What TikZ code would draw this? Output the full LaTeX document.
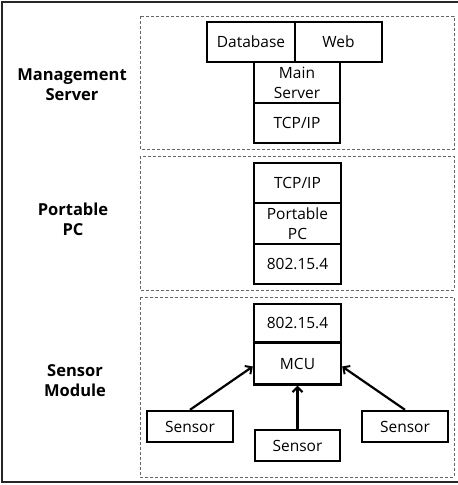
\documentclass[tikz,border=0pt]{standalone}
\usepackage{fontspec}
\setmainfont{Open Sans}
\usetikzlibrary{arrows.meta}
\begin{document}
\begin{tikzpicture}[x=1pt,y=-1pt,
  box/.style={draw=black,line width=2.4pt,inner sep=0pt,font=\fontsize{15.5}{20}\selectfont,align=center},
  zone/.style={draw=black!60,line width=0.8pt,dash pattern=on 3pt off 2pt},
  lbl/.style={font=\fontsize{16.5}{20}\selectfont\bfseries,align=center},
  arr/.style={line width=2.2pt,-{Straight Barb[length=5pt,width=10pt,line width=2pt]}}]
\useasboundingbox (0,0) rectangle (458,485);
\begin{scope}
\clip (0,0) rectangle (458,485);
\draw[line width=1.5pt,black!85] (2,2) rectangle (470,482);
\end{scope}
% zones
\draw[zone] (140,16) rectangle (454,149);
\draw[zone] (140,156) rectangle (454,290);
\draw[zone] (140,297) rectangle (454,477);
% labels
\node[lbl] (lms) at (72,85) {Management\\Server};
\node[lbl] (lpc) at (73,219) {Portable\\PC};
\node[lbl] (lsm) at (75,381) {Sensor\\Module};
% management server
\node[box,minimum width=88pt,minimum height=40pt] (db) at (251,42) {Database};
\node[box,minimum width=87pt,minimum height=40pt] (web) at (338.5,42) {Web};
\node[box,minimum width=86pt,minimum height=41pt] (ms) at (297,82.5) {Main\\Server};
\node[box,minimum width=86pt,minimum height=40pt] (tcp1) at (297,123) {TCP/IP};
% portable pc
\node[box,minimum width=87pt,minimum height=40pt] (tcp2) at (297.5,183) {TCP/IP};
\node[box,minimum width=87pt,minimum height=41pt] (ppc) at (297.5,223.5) {Portable\\PC};
\node[box,minimum width=87pt,minimum height=40pt] (zb1) at (297.5,264) {802.15.4};
% sensor module
\node[box,minimum width=87pt,minimum height=38pt] (zb2) at (297.5,323) {802.15.4};
\node[box,minimum width=87pt,minimum height=42pt] (mcu) at (297.5,363.5) {MCU};
\node[box,minimum width=86pt,minimum height=31pt] (s1) at (190,426.5) {Sensor};
\node[box,minimum width=85pt,minimum height=31pt] (s2) at (297.5,445.5) {Sensor};
\node[box,minimum width=86pt,minimum height=31pt] (s3) at (405,426.5) {Sensor};
\draw[arr] (s1.north) -- ([yshift=-3pt]mcu.west);
\draw[arr] (s2.north) -- (mcu.south);
\draw[arr] (s3.north) -- ([yshift=-3pt]mcu.east);
\end{tikzpicture}
\end{document}
